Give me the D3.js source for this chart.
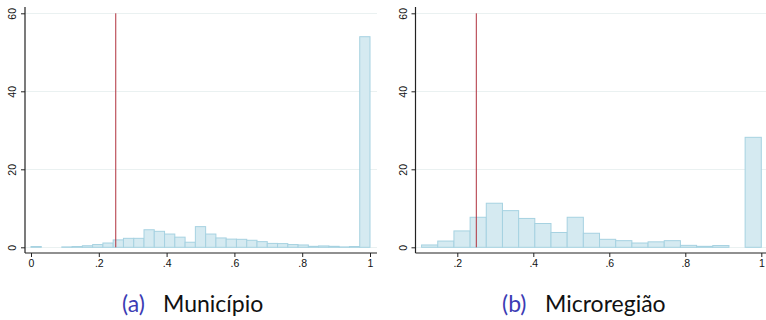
<!DOCTYPE html>
<html>
<head>
<meta charset="utf-8">
<script src="https://cdn.jsdelivr.net/npm/d3@7"></script>
<style>
  body { margin: 0; background: #fff; }
  svg { display: block; }
</style>
</head>
<body>
<svg id="chart" width="766" height="320"></svg>
<script>
// histogram heights (percent)
const municipioBins = [0.2, 0, 0, 0.1, 0.2, 0.4, 0.7, 1.1, 1.9, 2.3, 2.3, 4.5, 4.1, 3.4, 2.6, 1.3,
  5.3, 3.4, 2.4, 2.1, 2.05, 1.8, 1.45, 1.0, 0.95, 0.7, 0.6, 0.25, 0.35, 0.25, 0.1, 0.2, 54];
const municipioRange = [0, 1];
const microregiaoBins = [0.6, 1.6, 4.2, 7.7, 11.3, 9.4, 7.4, 6.1, 3.8, 7.7, 3.6, 2.05, 1.7, 1.1,
  1.4, 1.7, 0.5, 0.25, 0.45, 0, 28.2];
const microregiaoRange = [0.106, 1];
const cutoff = 0.25;

const xTicksA = [0, 0.2, 0.4, 0.6, 0.8, 1];
const xTicksB = [0.2, 0.4, 0.6, 0.8, 1];
const yTicks = [0, 20, 40, 60];
const tickLabel = v => v === 0 ? '0' : v === 1 ? '1' : String(v).replace(/^0/, '');

const captionTags = ['(a)', '(b)'];
const captionNames = ['Município', 'Microregião'];

const svg = d3.select('#chart');

const panels = [
  { bins: municipioBins, range: municipioRange, xTicks: xTicksA,
    xRange: [31, 370], axisX: 25, right: 377, capX: 122, nameX: 163 },
  { bins: microregiaoBins, range: microregiaoRange, xTicks: xTicksB,
    xRange: [381.3, 761.3], axisX: 415.5, right: 766, capX: 502, nameX: 545 }
];

const y = d3.scaleLinear().domain([0, 60]).range([247.3, 13.3]);
const axisY = 253;

panels.forEach((p, k) => {
  const g = svg.append('g');
  const x = d3.scaleLinear().domain([0, 1]).range(p.xRange);
  const w = (p.range[1] - p.range[0]) / p.bins.length;

  // faint grid lines
  g.selectAll('.grid')
    .data(yTicks)
    .enter()
    .append('line')
    .attr('x1', p.axisX).attr('x2', p.right)
    .attr('y1', d => Math.round(y(d)) + 0.5).attr('y2', d => Math.round(y(d)) + 0.5)
    .attr('stroke', '#eaf1f1')
    .attr('stroke-width', 1);

  // bars
  g.selectAll('.bar')
    .data(p.bins)
    .enter()
    .append('rect')
    .attr('x', (d, i) => x(p.range[0] + i * w))
    .attr('width', (d, i) => x(p.range[0] + (i + 1) * w) - x(p.range[0] + i * w))
    .attr('y', d => y(d))
    .attr('height', d => y(0) - y(d))
    .attr('fill', '#d5eaf1')
    .attr('stroke', '#a6d2e1')
    .attr('stroke-width', 1);

  // cutoff line
  g.append('line')
    .attr('x1', x(cutoff)).attr('x2', x(cutoff))
    .attr('y1', y(60)).attr('y2', y(0))
    .attr('stroke', '#b0303c')
    .attr('stroke-width', 1);

  // axis lines
  g.append('line')
    .attr('x1', p.axisX).attr('x2', p.axisX)
    .attr('y1', 7).attr('y2', axisY)
    .attr('stroke', '#222').attr('stroke-width', 1.2);
  g.append('line')
    .attr('x1', p.axisX).attr('x2', p.right)
    .attr('y1', axisY).attr('y2', axisY)
    .attr('stroke', '#222').attr('stroke-width', 1.2);

  // x axis
  const xa = g.append('g')
    .attr('transform', 'translate(0,' + axisY + ')')
    .call(d3.axisBottom(x).tickValues(p.xTicks).tickFormat(tickLabel).tickSize(4).tickPadding(3));
  xa.select('.domain').remove();
  xa.selectAll('line').attr('stroke', '#222');
  xa.selectAll('text')
    .style('font-family', 'Liberation Sans, Arial, sans-serif')
    .style('font-size', '10.5px')
    .attr('fill', '#111');

  // y axis
  const ya = g.append('g')
    .attr('transform', 'translate(' + p.axisX + ',0)')
    .call(d3.axisLeft(y).tickValues(yTicks).tickSize(4).tickPadding(3));
  ya.select('.domain').remove();
  ya.selectAll('line').attr('stroke', '#222');
  ya.selectAll('text')
    .attr('x', null).attr('dy', null)
    .attr('transform', 'translate(-9,0) rotate(-90)')
    .attr('text-anchor', 'middle')
    .style('font-family', 'Liberation Sans, Arial, sans-serif')
    .style('font-size', '10.5px')
    .attr('fill', '#111');

  // caption
  const cap = g.append('text')
    .attr('y', 312)
    .style('font-family', 'Lato, Open Sans, sans-serif')
    .style('font-size', '23px');
  cap.append('tspan').attr('x', p.capX).attr('fill', '#3c3cb4').text(captionTags[k]);
  cap.append('tspan').attr('x', p.nameX).attr('fill', '#111').text(captionNames[k]);
});
</script>
</body>
</html>
